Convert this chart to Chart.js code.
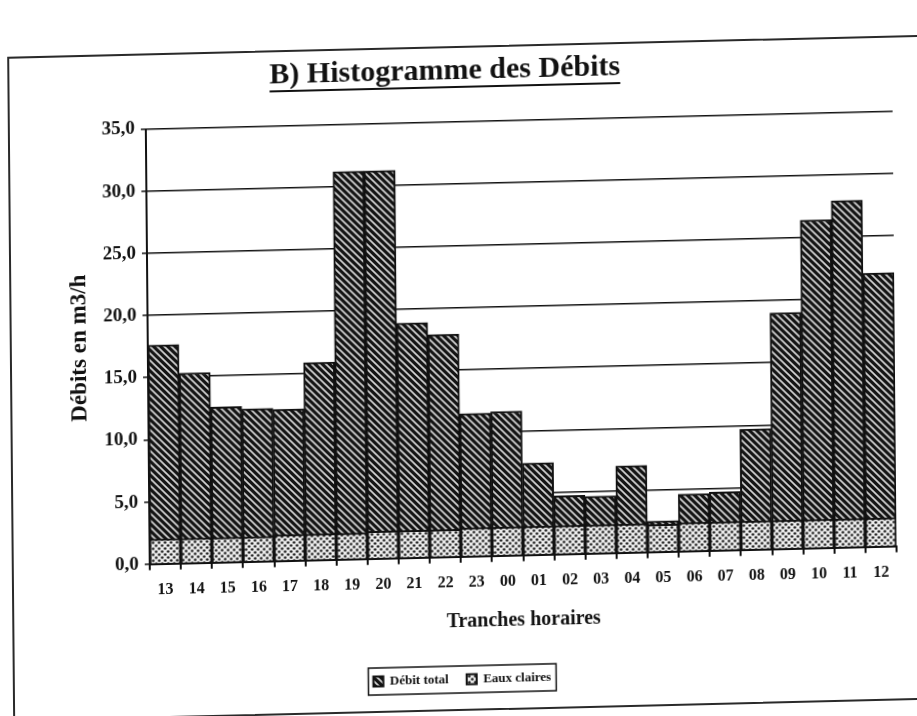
<!DOCTYPE html>
<html lang="fr">
<head>
<meta charset="utf-8">
<title>Histogramme des Débits</title>
<script src="https://cdn.jsdelivr.net/npm/chart.js@4.4.1/dist/chart.umd.min.js"></script>
<style>
  html, body { margin: 0; padding: 0; background: #fff; overflow: hidden; }
  /* la feuille est légèrement de travers */
  #page { position: relative; width: 917px; height: 716px; transform-origin: 458px 358px; transform: matrix(1, -0.024, 0.009, 1, 0, 0); }
  #cadre { position: absolute; left: 10px; top: 46px; width: 960px; height: 665px; border: 2px solid #2a2a2a; box-sizing: border-box; }
  #graph { position: absolute; left: 0; top: 0; }
</style>
</head>
<body>
<div id="page">
  <div id="cadre"></div>
  <canvas id="graph" width="917" height="716"></canvas>
</div>
<script>
const tranches = ['13', '14', '15', '16', '17', '18', '19', '20', '21', '22', '23', '00',
                  '01', '02', '03', '04', '05', '06', '07', '08', '09', '10', '11', '12'];
const debitTotal = [17.6, 15.3, 12.5, 12.3, 12.2, 15.9, 31.2, 31.2, 18.9, 17.9, 11.5, 11.6,
                    7.4, 4.7, 4.6, 7.0, 2.5, 4.6, 4.7, 9.7, 19.0, 26.4, 27.9, 22.0];
const eauxClaires = [2.0, 2.0, 2.0, 2.0, 2.1, 2.1, 2.1, 2.2, 2.2, 2.2, 2.3, 2.3,
                     2.3, 2.3, 2.3, 2.3, 2.2, 2.3, 2.3, 2.3, 2.3, 2.3, 2.3, 2.3];
const graduations = ['0,0', '5,0', '10,0', '15,0', '20,0', '25,0', '30,0', '35,0'];

const serif = '"Liberation Serif", "Times New Roman", serif';
const noir = '#111';

// hachures blanches en diagonale sur fond noir
function hachures() {
  const c = document.createElement('canvas');
  c.width = 7; c.height = 7;
  const g = c.getContext('2d');
  g.fillStyle = '#141414';
  g.fillRect(0, 0, 7, 7);
  g.strokeStyle = '#d4d4d4';
  g.lineWidth = 1.7;
  g.beginPath();
  g.moveTo(-1, -1); g.lineTo(8, 8);
  g.moveTo(6, -1); g.lineTo(15, 8);
  g.moveTo(-8, -1); g.lineTo(1, 8);
  g.stroke();
  return g.createPattern(c, 'repeat');
}

// petits points noirs en quinconce
function pointille() {
  const c = document.createElement('canvas');
  c.width = 6; c.height = 6;
  const g = c.getContext('2d');
  g.fillStyle = '#ebebeb';
  g.fillRect(0, 0, 6, 6);
  g.fillStyle = '#151515';
  [[1.5, 1.5], [4.5, 4.5]].forEach(([x, y]) => {
    g.beginPath();
    g.arc(x, y, 1.3, 0, Math.PI * 2);
    g.fill();
  });
  return g.createPattern(c, 'repeat');
}

// légende un peu décalée vers la droite, encadrée
const cadreLegende = {
  id: 'cadreLegende',
  afterLayout(chart) {
    const lg = chart.legend;
    if (!lg) return;
    lg.left += 12;
    lg.right += 12;
  },
  afterDraw(chart) {
    const boxes = chart.legend && chart.legend.legendHitBoxes;
    if (!boxes || !boxes.length) return;
    const l = Math.min(...boxes.map(b => b.left)) - 5;
    const r = Math.max(...boxes.map(b => b.left + b.width)) + 5;
    const t = boxes[0].top - 7;
    const h = boxes[0].height + 14;
    const ctx = chart.ctx;
    ctx.save();
    ctx.strokeStyle = noir;
    ctx.lineWidth = 1.5;
    ctx.strokeRect(l, t, r - l, h);
    ctx.restore();
  }
};

// titre souligné
const soulignement = {
  id: 'soulignement',
  afterDraw(chart) {
    const t = chart.titleBlock;
    const ctx = chart.ctx;
    ctx.save();
    ctx.font = 'bold 30px ' + serif;
    const w = ctx.measureText(t.options.text).width;
    const cx = (t.left + t.right) / 2;
    const y = t.top + 53 + 18 + 16;
    ctx.strokeStyle = noir;
    ctx.lineWidth = 2;
    ctx.beginPath();
    ctx.moveTo(cx - w / 2, y);
    ctx.lineTo(cx + w / 2, y);
    ctx.stroke();
    ctx.restore();
  }
};

new Chart(document.getElementById('graph'), {
  type: 'bar',
  data: {
    labels: tranches,
    datasets: [
      {
        label: 'Débit total',
        data: debitTotal,
        backgroundColor: hachures(),
        borderColor: noir,
        borderWidth: 2,
        barPercentage: 1,
        categoryPercentage: 1,
        order: 1
      },
      {
        label: 'Eaux claires',
        data: eauxClaires,
        backgroundColor: pointille(),
        borderColor: noir,
        borderWidth: 2,
        barPercentage: 1,
        categoryPercentage: 1,
        order: 0
      }
    ]
  },
  options: {
    responsive: false,
    animation: false,
    layout: { padding: { left: 0, right: 22, top: 0, bottom: 20 } },
    plugins: {
      title: {
        display: true,
        text: 'B) Histogramme des Débits',
        color: noir,
        font: { family: serif, size: 30, weight: 'bold' },
        padding: { top: 53, bottom: 32.5 }
      },
      legend: {
        position: 'bottom',
        labels: {
          sort: (a, b) => a.datasetIndex - b.datasetIndex,
          boxWidth: 10,
          boxHeight: 10,
          padding: 18,
          color: noir,
          font: { family: serif, size: 13, weight: 'bold' }
        }
      },
      tooltip: { enabled: false }
    },
    scales: {
      x: {
        stacked: true,
        grid: { offset: true, drawOnChartArea: false, tickLength: 6, color: noir, lineWidth: 2 },
        border: { color: noir, width: 2 },
        ticks: {
          padding: 10,
          color: noir,
          autoSkip: false,
          maxRotation: 0,
          font: { family: serif, size: 16, weight: 'bold' }
        },
        title: {
          display: true,
          text: 'Tranches horaires',
          color: noir,
          font: { family: serif, size: 20, weight: 'bold' },
          padding: { top: 8, bottom: 21 }
        }
      },
      y: {
        min: 0,
        max: 35,
        afterFit: axe => { axe.width = 148; },
        grid: { color: noir, lineWidth: 1.5, tickLength: 5 },
        border: { color: noir, width: 2 },
        ticks: {
          stepSize: 5,
          padding: 6,
          color: noir,
          font: { family: serif, size: 19, weight: 'bold' },
          callback: (v, i) => graduations[i]
        },
        title: {
          display: true,
          text: 'Débits en m3/h',
          color: noir,
          font: { family: serif, size: 23, weight: 'bold' },
          padding: { top: 66, bottom: 10 }
        }
      }
    }
  },
  plugins: [cadreLegende, soulignement]
});
</script>
</body>
</html>
